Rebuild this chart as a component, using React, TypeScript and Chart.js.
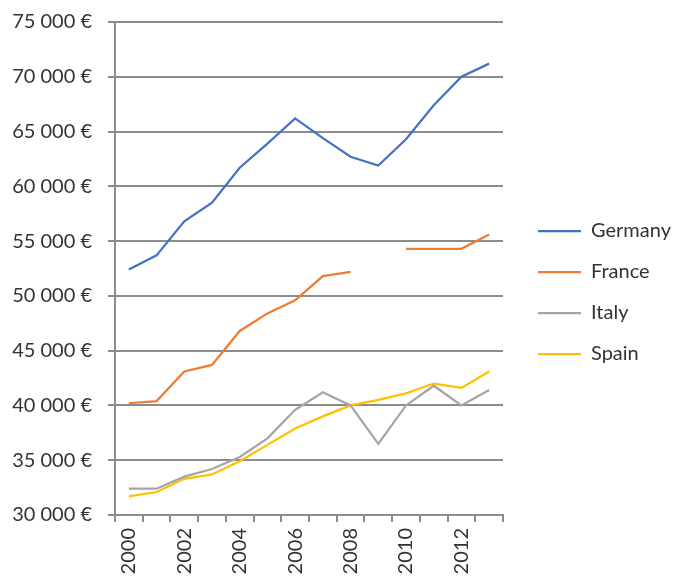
import React, { useEffect, useRef } from 'react';
import { Chart, registerables } from 'chart.js';

Chart.register(...registerables);

const years = ['2000', '2001', '2002', '2003', '2004', '2005', '2006', '2007', '2008', '2009', '2010', '2011', '2012', '2013'];
const germany = [52400, 53700, 56800, 58500, 61700, 63900, 66200, 64400, 62700, 61900, 64300, 67400, 70000, 71200];
const france = [40200, 40400, 43100, 43700, 46800, 48400, 49600, 51800, 52200, null, 54300, 54300, 54300, 55600];
const italy = [32400, 32400, 33500, 34200, 35300, 37000, 39600, 41200, 40000, 36500, 40000, 41800, 40000, 41400];
const spain = [31700, 32100, 33300, 33700, 34900, 36400, 37900, 39000, 40000, 40500, 41100, 42000, 41600, 43100];
const seriesNames = ['Germany', 'France', 'Italy', 'Spain'];
const seriesColors = ['#4472C4', '#ED7D31', '#A5A5A5', '#FFC000'];
const yMin = 30000;
const yMax = 75000;
const yStep = 5000;

const fmtEuro = (v: number) => String(v).replace(/\B(?=(\d{3})+(?!\d))/g, ' ') + ' €';

const FONT = 'Lato';
const TEXT = '#333333';
const GRID = '#8C8C8C';

const legendPlacer = {
  id: 'legendPlacer',
  beforeLayout(chart: any) {
    const lg = chart.legend;
    if (lg && !lg.__patched) {
      lg.__patched = true;
      const origFit = lg.fit;
      lg.fit = function () {
        origFit.call(this);
        this.width = 176;
      };
    }
  },
  afterLayout(chart: any) {
    const lg = chart.legend;
    if (!lg) return;
    const dx = 14;
    lg.left += dx;
    lg.right += dx;
    lg.top -= 7;
    lg.bottom -= 7;
  },
};

export default function App() {
  const ref = useRef<HTMLCanvasElement | null>(null);
  useEffect(() => {
    if (!ref.current) return;
    const all = [germany, france, italy, spain];
    const chart = new Chart(ref.current, {
      type: 'line',
      data: {
        labels: years,
        datasets: all.map((d, i) => ({
          label: seriesNames[i],
          data: d,
          borderColor: seriesColors[i],
          backgroundColor: seriesColors[i],
          borderWidth: 2.25,
          pointRadius: 0,
          pointHoverRadius: 0,
          tension: 0,
          spanGaps: false,
        })),
      },
      options: {
        responsive: false,
        animation: false,
        layout: { padding: { top: 22, left: 0, right: 0, bottom: 0 } },
        plugins: {
          legend: {
            position: 'right',
            labels: {
              boxWidth: 43,
              boxHeight: 0,
              padding: 21,
              color: TEXT,
              font: { family: FONT, size: 20 },
            },
          },
          title: { display: false },
          tooltip: { enabled: false },
        },
        scales: {
          x: {
            type: 'category',
            offset: true,
            grid: {
              display: true,
              offset: true,
              drawOnChartArea: false,
              drawTicks: true,
              tickLength: 7,
              color: GRID,
              lineWidth: 2,
            },
            border: { display: true, color: GRID, width: 2 },
            ticks: {
              autoSkip: false,
              minRotation: 90,
              maxRotation: 90,
              padding: 6,
              color: TEXT,
              font: { family: FONT, size: 20 },
              callback: (_v: any, i: number) => (i % 2 === 0 ? years[i] : ''),
            },
            afterFit: (s: any) => {
              s.height = 62;
              s.paddingLeft = 0;
              s.paddingRight = 0;
            },
          },
          y: {
            min: yMin,
            max: yMax,
            grid: { color: GRID, lineWidth: 2, tickLength: 7, drawTicks: true },
            border: { display: true, color: GRID, width: 2 },
            ticks: {
              stepSize: yStep,
              padding: 16,
              color: TEXT,
              font: { family: FONT, size: 20 },
              callback: (v: any) => fmtEuro(Number(v)),
            },
            afterFit: (s: any) => {
              s.width = 115;
              s.paddingTop = 0;
              s.paddingBottom = 0;
            },
          },
        },
      },
      plugins: [legendPlacer],
    } as any);
    return () => chart.destroy();
  }, []);
  return (
    <div style={{ position: 'absolute', left: 0, top: 0, width: 679, height: 577 }}>
      <canvas ref={ref} width={679} height={577} style={{ display: 'block' }} />
    </div>
  );
}
